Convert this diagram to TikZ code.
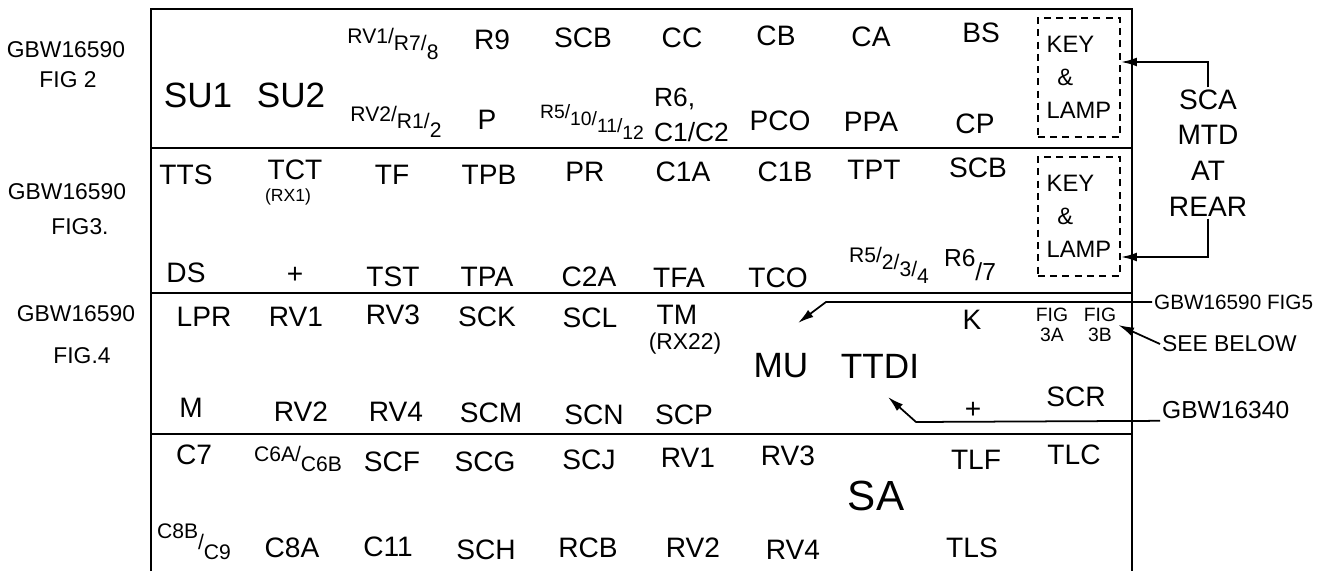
\documentclass[tikz,border=0pt]{standalone}
\usepackage{fontspec}
\setmainfont{Liberation Sans}
\usetikzlibrary{arrows.meta}
\newcommand{\stepdown}[2]{\raisebox{-#1}{#2}}
\newcommand{\rowa}{148}
\newcommand{\rowb}{293}
\newcommand{\rowc}{434}

\begin{document}
\begin{tikzpicture}[x=0.02cm, y=-0.02cm,
  txt/.style={inner sep=1pt, font=\fontsize{16}{18}\selectfont},
  bigtxt/.style={inner sep=1pt, font=\fontsize{20}{22}\selectfont},
  fractxt/.style={inner sep=1pt, font=\fontsize{12}{14}\selectfont},
  reftxt/.style={inner sep=1pt, font=\fontsize{13}{15}\selectfont},
  smalltxt/.style={inner sep=1pt, font=\fontsize{10}{12}\selectfont},
  figtxt/.style={inner sep=1pt, align=center, font=\fontsize{11}{11.5}\selectfont},
  keybox/.style={draw, line width=0.9pt, dash pattern=on 4pt off 3pt, minimum width=1.65cm, minimum height=2.38cm, align=left, font=\fontsize{13.5}{18.7}\selectfont},
  arr/.style={-{Latex[length=9pt,width=5pt]}, line width=1pt},
  frame/.style={line width=1.2pt}]

\useasboundingbox (0,0) rectangle (1317,571);

% frame and rows
\draw[frame] (151,571) -- (151,9) -- (1132,9) -- (1132,571);
\draw[frame] (151,\rowa) -- (1132,\rowa);
\draw[frame] (151,\rowb) -- (1132,\rowb);
\draw[frame] (151,\rowc) -- (1132,\rowc);

\node[reftxt] (figTwoA) at (66,50) {GBW16590};
\node[reftxt] (figTwoB) at (68,80) {FIG 2};
\node[reftxt] (figThreeA) at (67,192) {GBW16590};
\node[reftxt] (figThreeB) at (80,227) {FIG3.};
\node[reftxt] (figFourA) at (76,314) {GBW16590};
\node[reftxt] (figFourB) at (82,356) {FIG.4};


% row 1
\node[bigtxt] (suOne) at (198,95) {SU1};
\node[bigtxt] (suTwo) at (291,95) {SU2};
\node[fractxt] (rvOneTop) at (393,44) {RV1/\stepdown{4pt}{R7/}\stepdown{9pt}{8}};
\node[txt] (rNine) at (492,40) {R9};
\node[txt] (scbTop) at (583,38) {SCB};
\node[txt] (cc) at (682,38) {CC};
\node[txt] (cb) at (776,36) {CB};
\node[txt] (ca) at (871,37) {CA};
\node[txt] (bs) at (981,33) {BS};
\node[fractxt] (rvTwoTop) at (396,122) {RV2/\stepdown{4pt}{R1/}\stepdown{9pt}{2}};
\node[txt] (p) at (487,120) {P};
\node[fractxt, font=\fontsize{11}{13}\selectfont] (rFiveTop) at (592,122) {R5/\stepdown{4pt}{10/}\stepdown{8pt}{11/}\stepdown{12pt}{12}};
\node[txt, anchor=west, align=left, font=\fontsize{15}{20.4}\selectfont] (rSixTop) at (652,115) {R6,\\C1/C2};
\node[txt] (pco) at (780,121) {PCO};
\node[txt] (ppa) at (871,122) {PPA};
\node[txt] (cp) at (975,124) {CP};
\node[keybox] (keyA) at (1079,77.5) {KEY\\\hspace{6pt}\&\\LAMP};


% row 2
\node[txt] (tts) at (186,175) {TTS};
\node[txt] (tct) at (295,170) {TCT};
\node[smalltxt] (rxOne) at (288,197) {(RX1)};
\node[txt] (tf) at (392,175) {TF};
\node[txt] (tpb) at (489,175) {TPB};
\node[txt] (pr) at (585,172) {PR};
\node[txt] (cOneA) at (683,172) {C1A};
\node[txt] (cOneB) at (785,172) {C1B};
\node[txt] (tpt) at (874,170) {TPT};
\node[txt] (scbMid) at (978,168) {SCB};
\node[txt] (ds) at (186,273) {DS};
\node[txt] (plusMid) at (295,275) {+};
\node[txt] (tst) at (393,277) {TST};
\node[txt] (tpa) at (487,277) {TPA};
\node[txt] (cTwoA) at (589,277) {C2A};
\node[txt] (tfa) at (679,278) {TFA};
\node[txt] (tco) at (778,278) {TCO};
\node[fractxt] (rFiveMid) at (889,265) {R5/\stepdown{4pt}{2/}\stepdown{8pt}{3/}\stepdown{12pt}{4}};
\node[fractxt, font=\fontsize{14}{16}\selectfont] (rSixMid) at (970,265) {R6\stepdown{8pt}{/7}};
\node[keybox] (keyB) at (1079,216.5) {KEY\\\hspace{6pt}\&\\LAMP};

\node[txt, align=center, font=\fontsize{16}{20.4}\selectfont] (sca) at (1208,153) {SCA\\MTD\\AT\\REAR};
\coordinate (keyUp) at (1208,62);
\coordinate (keyDown) at (1208,257);
\draw[arr] (sca.north) |- (keyA.east |- keyUp);
\draw[arr] (sca.south) |- (keyB.east |- keyDown);


% row 3
\node[txt] (lpr) at (204,317) {LPR};
\node[txt] (rvOneLow) at (296,317) {RV1};
\node[txt] (rvThreeLow) at (393,315) {RV3};
\node[txt] (sck) at (487,317) {SCK};
\node[txt] (scl) at (590,318) {SCL};
\node[txt] (tm) at (677,315) {TM};
\node[reftxt] (rxTwo) at (685,344) {(RX22)};
\node[txt] (k) at (972,320) {K};
\node[figtxt] (figA) at (1052,325) {FIG\\3A};
\node[figtxt] (figB) at (1100,325) {FIG\\3B};
\node[bigtxt] (mu) at (781,366) {MU};
\node[bigtxt] (ttdi) at (880,366) {TTDI};
\node[txt] (m) at (191,408) {M};
\node[txt] (rvTwoLow) at (301,412) {RV2};
\node[txt] (rvFourLow) at (396,412) {RV4};
\node[txt] (scm) at (491,413) {SCM};
\node[txt] (scn) at (594,415) {SCN};
\node[txt] (scp) at (684,415) {SCP};
\node[txt] (plusLow) at (973,410) {+};
\node[txt] (scr) at (1076,397) {SCR};

\node[reftxt, anchor=west, font=\fontsize{11.8}{14}\selectfont] (figFive) at (1152,302) {GBW16590 FIG5};
\node[reftxt, anchor=west] (seeBelow) at (1160,344) {SEE BELOW};
\node[reftxt, anchor=west, font=\fontsize{14}{16}\selectfont] (gbwLow) at (1160,410) {GBW16340};
\coordinate (fiveBend) at (826,302);
\coordinate (muTip) at (798,323);
\coordinate (lowBend) at (916,422);
\coordinate (ttdiTip) at (888,397);
\draw[arr] (figFive.west) -- (fiveBend) -- (muTip);
\draw[arr] (seeBelow.west) -- (figB.east);
\draw[arr] (gbwLow.south west) -- (lowBend) -- (ttdiTip);


% row 4
\node[txt] (cSeven) at (194,455) {C7};
\node[fractxt] (cSix) at (298,459) {C6A/\stepdown{6pt}{C6B}};
\node[txt] (scf) at (392,462) {SCF};
\node[txt] (scg) at (485,462) {SCG};
\node[txt] (scj) at (589,460) {SCJ};
\node[txt] (rvOneBot) at (688,458) {RV1};
\node[txt] (rvThreeBot) at (788,456) {RV3};
\node[txt] (tlf) at (976,460) {TLF};
\node[txt] (tlc) at (1074,455) {TLC};
\node[font=\fontsize{24}{26}\selectfont] (sa) at (876,496) {SA};
\node[fractxt] (cEight) at (194,542) {C8B\stepdown{6pt}{/}\stepdown{12pt}{C9}};
\node[txt] (cEightA) at (292,548) {C8A};
\node[txt] (cEleven) at (388,547) {C11};
\node[txt] (sch) at (486,550) {SCH};
\node[txt] (rcb) at (588,548) {RCB};
\node[txt] (rvTwoBot) at (693,548) {RV2};
\node[txt] (rvFourBot) at (793,550) {RV4};
\node[txt] (tls) at (972,548) {TLS};

\end{tikzpicture}
\end{document}
